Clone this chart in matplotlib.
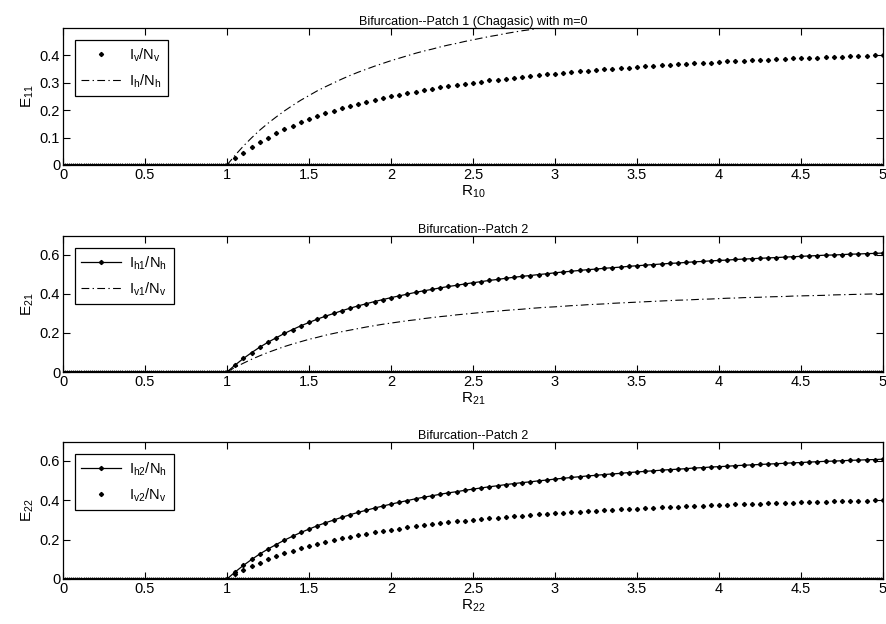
import numpy as np
import matplotlib
matplotlib.use("Agg")
import matplotlib.pyplot as plt

plt.rcParams['font.family'] = ['Liberation Sans', 'DejaVu Sans']
plt.rcParams['mathtext.fontset'] = 'custom'
plt.rcParams['mathtext.rm'] = 'Liberation Sans'
plt.rcParams['mathtext.it'] = 'Liberation Sans'

# ---- data ----
r_branch = np.round(np.arange(1.0, 5.0001, 0.05), 2)   # R from 1 to 5, step 0.05

# vector infected fraction (all three panels)
iv_nv = [0, .024, .045, .065, .083, .100, .115, .130, .143, .155,
         .167, .177, .188, .197, .206, .214, .222, .230, .237, .244,
         .250, .256, .262, .267, .273, .278, .283, .287, .292, .296,
         .300, .304, .308, .311, .315, .318, .321, .325, .328, .331,
         .333, .336, .339, .341, .344, .346, .348, .351, .353, .355,
         .357, .359, .361, .363, .365, .367, .368, .370, .372, .373,
         .375, .377, .378, .380, .381, .382, .384, .385, .386, .388,
         .389, .390, .391, .392, .394, .395, .396, .397, .398, .399,
         .400]

# host infected fraction
ih_nh = [0, .036, .069, .099, .127, .152, .175, .197, .217, .236,
         .253, .270, .285, .299, .313, .326, .338, .349, .360, .370,
         .380, .389, .398, .407, .415, .422, .430, .437, .443, .450,
         .456, .462, .468, .473, .479, .484, .489, .493, .498, .502,
         .507, .511, .515, .519, .523, .526, .530, .533, .536, .540,
         .543, .546, .549, .552, .555, .557, .560, .563, .565, .568,
         .570, .572, .575, .577, .579, .581, .583, .585, .587, .589,
         .591, .593, .595, .597, .598, .600, .602, .603, .605, .606,
         .608]

# trivial (disease-free) branch
r_trivial = np.linspace(0, 5, 401)
e_trivial = np.zeros(len(r_trivial))

titles = ["Bifurcation--Patch 1 (Chagasic) with m=0",
          "Bifurcation--Patch 2",
          "Bifurcation--Patch 2"]
xlabels = [r"R$_{10}$", r"R$_{21}$", r"R$_{22}$"]
ylabels = [r"E$_{11}$", r"E$_{21}$", r"E$_{22}$"]
xticks = [0, 0.5, 1, 1.5, 2, 2.5, 3, 3.5, 4, 4.5, 5]
xticklabels = ["0", "0.5", "1", "1.5", "2", "2.5", "3", "3.5", "4", "4.5", "5"]
yticks_top = [0, 0.1, 0.2, 0.3, 0.4]
yticklabels_top = ["0", "0.1", "0.2", "0.3", "0.4"]
yticks_low = [0, 0.2, 0.4, 0.6]
yticklabels_low = ["0", "0.2", "0.4", "0.6"]
ylims = [0.499, 0.695, 0.695]

legend_labels = [
    [r"I$_v$/N$_v$", r"I$_h$/N$_h$"],
    [r"I$_{h1}$/N$_h$", r"I$_{v1}$/N$_v$"],
    [r"I$_{h2}$/N$_h$", r"I$_{v2}$/N$_v$"],
]

# ---- figure ----
W, H = 886, 624
fig = plt.figure(figsize=(W / 100, H / 100), dpi=100)
boxes = [(28, 165), (236, 372), (442, 579)]
left, right = 63, 883
axes = []
for top, bot in boxes:
    ax = fig.add_axes([left / W, 1 - bot / H, (right - left) / W, (bot - top) / H])
    axes.append(ax)

dashdot = (0, (7, 3, 1.2, 3))
mk = dict(marker='D', markersize=2.1, color='black')

for i, ax in enumerate(axes):
    # trivial branch
    ax.plot(r_trivial, e_trivial, color='black', lw=1.6, marker='+',
            markersize=3.5, markeredgewidth=0.6, zorder=2)
    lab = legend_labels[i]
    if i == 0:
        ax.plot(r_branch, iv_nv, linestyle='none', label=lab[0], **mk)
        ax.plot(r_branch, ih_nh, color='black', lw=0.8, linestyle=dashdot, label=lab[1])
    elif i == 1:
        ax.plot(r_branch, ih_nh, linestyle='-', lw=0.9, label=lab[0], **mk)
        ax.plot(r_branch, iv_nv, color='black', lw=0.8, linestyle=dashdot, label=lab[1])
    else:
        ax.plot(r_branch, ih_nh, linestyle='-', lw=0.9, label=lab[0], **mk)
        ax.plot(r_branch, iv_nv, linestyle='none', label=lab[1], **mk)

    ax.set_xlim(0, 5)
    ax.set_ylim(0, ylims[i])
    ax.set_xticks(xticks)
    ax.set_xticklabels(xticklabels)
    if i == 0:
        ax.set_yticks(yticks_top)
        ax.set_yticklabels(yticklabels_top)
    else:
        ax.set_yticks(yticks_low)
        ax.set_yticklabels(yticklabels_low)
    ax.tick_params(direction='in', top=True, right=True, length=5, width=0.8,
                   labelsize=10.5, pad=2)
    for s in ax.spines.values():
        s.set_linewidth(0.9)
    ax.set_title(titles[i], fontsize=9, pad=2)
    ax.set_xlabel(xlabels[i], fontsize=11, labelpad=1)
    ax.set_ylabel(ylabels[i], fontsize=11, labelpad=3)
    leg = ax.legend(loc='upper left', fancybox=False, edgecolor='black',
                    framealpha=1, fontsize=10.5, handlelength=2.7,
                    handletextpad=0.6, borderaxespad=0.8, labelspacing=0.6,
                    borderpad=0.45)
    leg.get_frame().set_linewidth(0.9)

fig.savefig("out.png", dpi=100)
